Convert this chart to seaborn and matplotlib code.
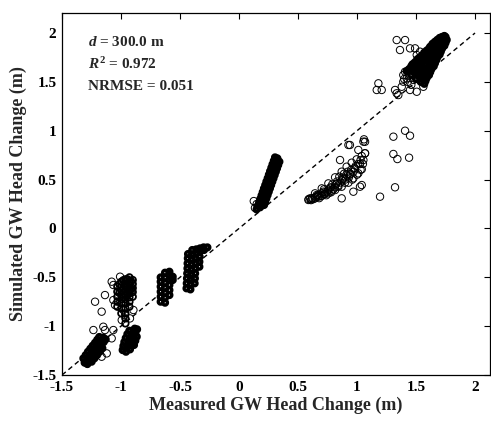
import matplotlib
matplotlib.use("Agg")
import matplotlib.pyplot as plt
import seaborn as sns
import pandas as pd

# ---------------- data (measured, simulated) ----------------
# upper-right dense cluster
a_meas = [1.42,1.44,1.46,1.47,1.49,1.51,1.53,1.55,1.57,1.59,1.61,1.62,1.64,1.66,1.68,1.70,
          1.46,1.48,1.49,1.51,1.53,1.55,1.56,1.58,1.60,1.62,1.63,1.65,1.67,1.69,1.70,1.72,
          1.50,1.52,1.53,1.55,1.56,1.58,1.60,1.61,1.63,1.64,1.66,1.68,1.69,1.71,1.72,1.74,
          1.54,1.55,1.57,1.58,1.60,1.61,1.62,1.64,1.65,1.67,1.68,1.69,1.71,1.72,1.74,1.75,
          1.57,1.58,1.59,1.61,1.62,1.63,1.65,1.66,1.67,1.68,1.70,1.71,1.72,1.74,1.75,1.76]
a_sim = [1.61,1.63,1.66,1.68,1.70,1.73,1.75,1.77,1.80,1.82,1.84,1.86,1.89,1.91,1.93,1.95,
         1.57,1.60,1.62,1.65,1.67,1.70,1.73,1.75,1.78,1.80,1.83,1.86,1.88,1.91,1.93,1.96,
         1.53,1.56,1.59,1.62,1.65,1.68,1.71,1.74,1.76,1.79,1.82,1.85,1.88,1.91,1.94,1.97,
         1.50,1.53,1.56,1.59,1.62,1.65,1.68,1.71,1.75,1.78,1.81,1.84,1.87,1.90,1.93,1.96,
         1.48,1.51,1.54,1.57,1.60,1.63,1.66,1.69,1.72,1.75,1.78,1.81,1.84,1.87,1.90,1.93]
# scattered points around the upper-right cluster
a_out_meas = [1.336,1.407,1.364,1.449,1.492,1.534,1.506,
              1.181,1.167,1.209,1.322,1.336,1.350,1.379,1.392,1.421,1.449,1.506,1.562,1.392,1.407,
              1.308,1.407,1.449,1.308,1.342,1.441,1.322,1.195,1.059,1.068,0.940,1.068,
              1.40,1.43,1.46,1.48,1.44]
a_out_sim = [1.928,1.928,1.826,1.843,1.843,1.809,1.775,
             1.485,1.417,1.417,1.417,1.383,1.365,1.450,1.502,1.536,1.417,1.399,1.450,1.570,1.604,
             0.939,1.000,0.949,0.762,0.710,0.724,0.421,0.325,0.912,0.887,0.854,0.769,
             1.53,1.50,1.47,1.52,1.56]
# steep cluster near 0.2 m
b_meas = [0.149,0.159,0.170,0.180,0.191,0.201,0.211,0.222,0.232,0.243,0.253,0.263,0.274,0.284,0.295,0.305,
          0.178,0.188,0.198,0.207,0.217,0.227,0.237,0.247,0.256,0.266,0.276,0.286,0.296,0.305,0.315,0.325,
          0.212,0.222,0.232,0.242,0.252,0.262,0.272,0.282,0.292,0.302,0.312,0.322,0.332,0.342]
b_sim = [0.195,0.230,0.266,0.301,0.337,0.372,0.408,0.443,0.479,0.514,0.550,0.585,0.621,0.656,0.692,0.727,
         0.216,0.249,0.283,0.316,0.350,0.383,0.416,0.450,0.483,0.517,0.550,0.583,0.617,0.650,0.684,0.717,
         0.240,0.274,0.308,0.342,0.376,0.410,0.444,0.479,0.513,0.547,0.581,0.615,0.649,0.683]
b_out_meas = [0.125, 0.135, 0.150]
b_out_sim = [0.280, 0.210, 0.250]
# open band between 0.6 and 1.1 m
c_meas = [0.588,0.644,0.701,0.757,0.814,0.870,0.927,0.969,1.011,1.040,
          0.602,0.658,0.715,0.771,0.828,0.884,0.941,0.983,1.025,1.054,
          0.644,0.701,0.757,0.814,0.870,0.912,0.955,0.997,1.040,1.068,
          0.616,0.672,0.729,0.785,0.842,0.898,
          0.870,0.969,1.025,1.040,0.927,1.054,1.011,0.856,
          0.62,0.66,0.68,0.72,0.74,0.78,0.80,0.84,0.86,0.90,0.93,0.95,0.99,
          0.72,0.79,0.85,0.89,1.00,1.03,0.96,
          0.59,0.61,0.63,0.65,0.67,0.69,0.70,0.73,0.75,0.76,0.78,0.81,
          0.82,0.83,0.87,0.88,0.91,0.92,0.94,0.97,0.98,1.01,1.03,1.05]
c_sim = [0.291,0.308,0.332,0.359,0.393,0.427,0.468,0.513,0.564,0.605,
         0.308,0.342,0.376,0.417,0.461,0.506,0.557,0.605,0.659,0.700,
         0.359,0.410,0.461,0.523,0.581,0.632,0.673,0.707,0.741,0.769,
         0.298,0.325,0.352,0.386,0.427,0.468,
         0.308,0.376,0.427,0.444,0.854,0.888,0.803,0.700,
         0.31,0.33,0.31,0.35,0.34,0.37,0.40,0.44,0.47,0.50,0.52,0.60,0.64,
         0.40,0.45,0.53,0.56,0.55,0.60,0.50,
         0.30,0.29,0.30,0.32,0.34,0.33,0.36,0.37,0.38,0.40,0.42,0.42,
         0.45,0.48,0.49,0.52,0.55,0.58,0.55,0.58,0.62,0.66,0.70,0.66]
# cluster near -0.35 m
d_meas = [-0.445,-0.443,-0.441,-0.439,-0.437,-0.436,-0.434,-0.432,
          -0.412,-0.410,-0.408,-0.406,-0.404,-0.402,-0.400,-0.398,-0.396,
          -0.376,-0.374,-0.372,-0.370,-0.368,-0.366,-0.364,-0.362,
          -0.336,-0.336,-0.334,-0.332,-0.330,
          -0.297,-0.300,-0.268]
d_sim = [-0.613,-0.562,-0.511,-0.460,-0.409,-0.358,-0.306,-0.262,
         -0.624,-0.573,-0.521,-0.470,-0.419,-0.368,-0.317,-0.266,-0.221,
         -0.562,-0.511,-0.460,-0.409,-0.358,-0.306,-0.255,-0.214,
         -0.392,-0.341,-0.289,-0.238,-0.204,
         -0.221,-0.194,-0.194]
# cluster near -0.6 m
e_meas = [-0.664,-0.664,-0.664,-0.664,-0.664,-0.664,
          -0.627,-0.627,-0.627,-0.627,-0.627,-0.627,-0.627,
          -0.590,-0.590,-0.590,-0.590,-0.590,-0.590,
          -0.562,-0.562]
e_sim = [-0.750,-0.699,-0.648,-0.596,-0.545,-0.501,
         -0.760,-0.709,-0.658,-0.607,-0.556,-0.504,-0.453,
         -0.682,-0.631,-0.579,-0.528,-0.477,-0.443,
         -0.528,-0.494]
# cluster near -0.95 m (upper column)
f_meas = [-1.031,-1.031,-1.031,-1.031,-1.031,
          -0.997,-0.997,-0.997,-0.997,-0.997,-0.997,-0.997,-0.997,
          -0.963,-0.963,-0.963,-0.963,-0.963,-0.963,-0.963,-0.963,-0.963,-0.963,-0.963,
          -0.929,-0.929,-0.929,-0.929,-0.929,-0.929,-0.929,-0.929,
          -0.901,-0.901,-0.901,-0.901,-0.901,
          -1.014,-0.980,-0.946,-0.915,-1.014,-0.980,-0.946,-0.915,-0.980,-0.946]
f_sim = [-0.596,-0.647,-0.699,-0.750,-0.801,
         -0.545,-0.589,-0.634,-0.678,-0.723,-0.767,-0.818,-0.869,
         -0.521,-0.562,-0.603,-0.644,-0.685,-0.726,-0.767,-0.818,-0.869,-0.920,-0.972,
         -0.501,-0.542,-0.583,-0.624,-0.665,-0.705,-0.750,-0.801,
         -0.528,-0.569,-0.610,-0.651,-0.699,
         -0.570,-0.530,-0.520,-0.540,-0.660,-0.620,-0.600,-0.620,-0.700,-0.680]
# cluster near -0.95 m (lower blob)
fl_meas = [-0.986,-0.980,-0.972,-0.960,-0.946,-0.929,
           -0.958,-0.949,-0.938,-0.927,-0.912,-0.898,-0.884,
           -0.924,-0.915,-0.904,-0.893,-0.879,-0.864,
           -0.890,-0.879,-0.867]
fl_sim = [-1.245,-1.204,-1.163,-1.122,-1.081,-1.047,
          -1.262,-1.221,-1.180,-1.139,-1.098,-1.060,-1.026,
          -1.238,-1.197,-1.156,-1.115,-1.074,-1.033,
          -1.193,-1.149,-1.108]
# scattered points on the left
f_out_meas = [-1.079,-1.065,-1.008,-1.136,-1.220,-1.164,-1.065,-1.051,-0.910,-0.895,-0.924,
              -1.234,-1.150,-1.065,-1.079,-1.121,-1.164,-1.136,-0.980,-0.966,-0.994]
f_out_sim = [-0.545,-0.579,-0.494,-0.682,-0.750,-0.852,-0.733,-0.784,-0.631,-0.835,-0.921,
             -1.040,-1.006,-1.040,-1.125,-1.279,-1.313,-1.040,-0.835,-0.887,-0.938]
# lower-left cluster
g_meas = [-1.319,-1.299,-1.280,-1.260,-1.240,-1.220,-1.201,-1.184,
          -1.308,-1.288,-1.268,-1.249,-1.229,-1.209,-1.189,-1.170,-1.150,
          -1.285,-1.266,-1.246,-1.226,-1.206,-1.186,-1.167,-1.147,-1.130,
          -1.249,-1.226,-1.203,-1.181,-1.158]
g_sim = [-1.330,-1.296,-1.262,-1.231,-1.200,-1.170,-1.139,-1.111,
         -1.374,-1.340,-1.306,-1.275,-1.245,-1.210,-1.180,-1.149,-1.118,
         -1.388,-1.354,-1.320,-1.289,-1.258,-1.224,-1.193,-1.163,-1.135,
         -1.364,-1.330,-1.296,-1.262,-1.227]

x_ticks = [-1.5, -1, -0.5, 0, 0.5, 1, 1.5, 2]
y_ticks = [-1.5, -1, -0.5, 0, 0.5, 1, 1.5, 2]
x_tick_labels = ["-1.5", "-1", "-0.5", "0", "0.5", "1", "1.5", "2"]
y_tick_labels = ["-1.5", "-1", "-0.5", "0", "0.5", "1", "1.5", "2"]
line_ends = [-1.5, 2.0]

# dense clusters (overlapping circles appear solid) and sparse points
dense = pd.DataFrame({
    "measured": a_meas + b_meas + d_meas + e_meas + fl_meas + g_meas,
    "simulated": a_sim + b_sim + d_sim + e_sim + fl_sim + g_sim})
medium = pd.DataFrame({"measured": f_meas, "simulated": f_sim})
sparse = pd.DataFrame({
    "measured": a_out_meas + b_out_meas + c_meas + f_out_meas,
    "simulated": a_out_sim + b_out_sim + c_sim + f_out_sim})

# ---------------- style ----------------
sns.set_style("white")
plt.rcParams["font.family"] = ["Liberation Serif", "DejaVu Serif"]
plt.rcParams["font.weight"] = "bold"
plt.rcParams["mathtext.fontset"] = "custom"
plt.rcParams["mathtext.rm"] = "Liberation Serif:bold"
plt.rcParams["mathtext.it"] = "Liberation Serif:italic:bold"
plt.rcParams["mathtext.bf"] = "Liberation Serif:bold"

fig = plt.figure(figsize=(4.91, 4.23), dpi=100)
ax = fig.add_axes([0.1263, 0.1135, 0.8717, 0.8558])

sns.scatterplot(data=sparse, x="measured", y="simulated", ax=ax,
                marker="o", s=28, facecolor="none", edgecolor="black",
                linewidth=0.7, legend=False)
sns.scatterplot(data=medium, x="measured", y="simulated", ax=ax,
                marker="o", s=22, facecolor="none", edgecolor="black",
                linewidth=1.3, legend=False)
sns.scatterplot(data=dense, x="measured", y="simulated", ax=ax,
                marker="o", s=12, facecolor="none", edgecolor="black",
                linewidth=2.4, legend=False)
ax.plot(line_ends, line_ends, linestyle=(0, (3.5, 2.5)), color="black", linewidth=1.0)

ax.set_xlim(-1.5, 2.127)
ax.set_ylim(-1.5, 2.205)
ax.set_xticks(x_ticks)
ax.set_xticklabels(x_tick_labels)
ax.set_yticks(y_ticks)
ax.set_yticklabels(y_tick_labels)
ax.tick_params(direction="in", length=4, width=0.8, top=True, right=True,
               labelsize=11, pad=4, colors="black")
for lab in ax.get_xticklabels() + ax.get_yticklabels():
    lab.set_fontweight("bold")
for sp in ax.spines.values():
    sp.set_visible(True)
    sp.set_color("black")
    sp.set_linewidth(0.9)

ax.set_xlabel("Measured GW Head Change (m)", fontsize=13, fontweight="bold", labelpad=2)
ax.set_ylabel("Simulated GW Head Change (m)", fontsize=13, fontweight="bold", labelpad=4)

ax.text(0.061, 0.92, r"$d$ = 300.0 m", transform=ax.transAxes, fontsize=11,
        fontweight="bold", va="center", ha="left")
ax.text(0.061, 0.859, r"$R^2$ = 0.972", transform=ax.transAxes, fontsize=11,
        fontweight="bold", va="center", ha="left")
ax.text(0.061, 0.798, "NRMSE = 0.051", transform=ax.transAxes, fontsize=11,
        fontweight="bold", va="center", ha="left")

fig.savefig("out.png", dpi=100)
